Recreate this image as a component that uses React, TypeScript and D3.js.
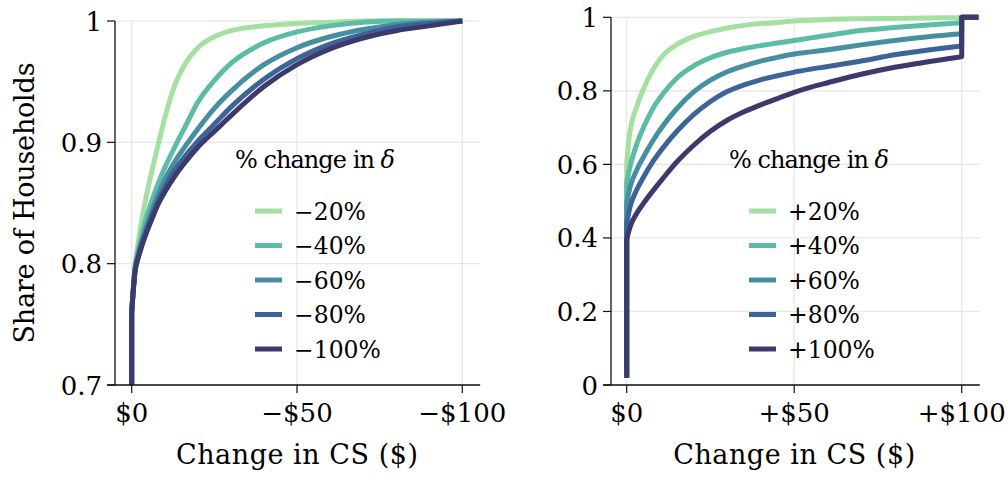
import * as d3 from "d3";

// legend labels and palette
const namesLeft = ["−20%", "−40%", "−60%", "−80%", "−100%"];
const namesRight = ["+20%", "+40%", "+60%", "+80%", "+100%"];
const colors = ["#a3e0a2", "#5cbca6", "#478fa0", "#3c6499", "#3c396c"];

// axis ticks
const xTicks = [0, 50, 100];
const xLabelsLeft = ["$0", "−$50", "−$100"];
const xLabelsRight = ["$0", "+$50", "+$100"];
const yTicksLeft = [0.7, 0.8, 0.9, 1];
const yLabelsLeft = ["0.7", "0.8", "0.9", "1"];
const yTicksRight = [0, 0.2, 0.4, 0.6, 0.8, 1];
const yLabelsRight = ["0", "0.2", "0.4", "0.6", "0.8", "1"];

// left panel: |change in CS| grid and share of households (CDF)
const gridLeft = [0, 1, 2, 3, 4, 6, 8, 10, 13, 16, 20, 25, 30, 40, 50, 60, 70, 80, 90, 100];
const cdfM20 = [0.76, 0.798, 0.818, 0.835, 0.85, 0.875, 0.898, 0.92, 0.947, 0.964, 0.978, 0.987, 0.992, 0.996, 0.998, 0.999, 1, 1, 1, 1];
const cdfM40 = [0.76, 0.796, 0.811, 0.823, 0.834, 0.851, 0.866, 0.879, 0.896, 0.912, 0.933, 0.951, 0.965, 0.982, 0.991, 0.996, 0.999, 1, 1, 1];
const cdfM60 = [0.76, 0.795, 0.808, 0.818, 0.827, 0.843, 0.857, 0.869, 0.884, 0.896, 0.911, 0.928, 0.942, 0.964, 0.978, 0.987, 0.993, 0.997, 0.999, 1];
const cdfM80 = [0.76, 0.794, 0.806, 0.816, 0.824, 0.839, 0.852, 0.863, 0.877, 0.888, 0.901, 0.915, 0.929, 0.952, 0.969, 0.981, 0.989, 0.995, 0.998, 1];
const cdfM100 = [0.76, 0.793, 0.805, 0.814, 0.822, 0.836, 0.849, 0.859, 0.872, 0.883, 0.896, 0.909, 0.922, 0.946, 0.964, 0.977, 0.986, 0.992, 0.996, 1];

// right panel
const gridRight = [0, 0.5, 1, 3, 5, 8, 11, 15, 20, 25, 30, 35, 40, 45, 50, 55, 60, 70, 80, 90, 100];
const cdfP20 = [0.6, 0.655, 0.69, 0.757, 0.805, 0.86, 0.898, 0.926, 0.948, 0.961, 0.971, 0.978, 0.983, 0.986, 0.99, 0.992, 0.994, 0.996, 0.997, 0.998, 0.999];
const cdfP40 = [0.55, 0.573, 0.594, 0.655, 0.7, 0.755, 0.794, 0.835, 0.868, 0.89, 0.905, 0.915, 0.923, 0.93, 0.937, 0.944, 0.951, 0.964, 0.972, 0.979, 0.985];
const cdfP60 = [0.495, 0.518, 0.538, 0.585, 0.62, 0.667, 0.707, 0.752, 0.797, 0.829, 0.852, 0.868, 0.881, 0.891, 0.9, 0.906, 0.912, 0.925, 0.937, 0.947, 0.955];
const cdfP80 = [0.44, 0.463, 0.484, 0.531, 0.565, 0.61, 0.647, 0.69, 0.735, 0.771, 0.798, 0.816, 0.83, 0.841, 0.851, 0.859, 0.866, 0.881, 0.898, 0.911, 0.922];
const cdfP100 = [0.395, 0.414, 0.43, 0.467, 0.494, 0.53, 0.564, 0.607, 0.652, 0.69, 0.72, 0.743, 0.762, 0.779, 0.796, 0.81, 0.822, 0.845, 0.864, 0.879, 0.893];
const rightFloor = 0.02;

const FONT = "'DejaVu Serif', 'Liberation Serif', serif";

function Panel(props: any) {
  const { axisX, xRange, yRange, yDomain, yTicks, yLabels, xLabels, paths, names, legendX, yTitle } = props;
  const x = d3.scaleLinear().domain([0, 100]).range(xRange);
  const y = d3.scaleLinear().domain(yDomain).range(yRange);
  const bottom = y(yDomain[0]);
  const top = y(yDomain[1]);
  const right = x(105.4);
  const ps = paths(x, y);
  const tf = { fontFamily: FONT };
  return (
    <g>
      {yTicks.map((t: number) => (
        <line key={"gy" + t} x1={axisX} x2={right} y1={y(t)} y2={y(t)} stroke="#e6e6e6" strokeWidth={1.2} />
      ))}
      {xTicks.map((t: number) => (
        <line key={"gx" + t} x1={x(t)} x2={x(t)} y1={top} y2={bottom} stroke="#e6e6e6" strokeWidth={1.2} />
      ))}
      {ps.map((d: string, i: number) => (
        <path key={"p" + i} d={d} fill="none" stroke={colors[i]} strokeWidth={5} strokeLinejoin="round" />
      ))}
      <line x1={axisX} x2={axisX} y1={top} y2={bottom} stroke="#111" strokeWidth={1.3} />
      <line x1={axisX - 8} x2={right} y1={bottom} y2={bottom} stroke="#111" strokeWidth={1.3} />
      {yTicks.map((t: number, i: number) => (
        <g key={"yt" + t}>
          <line x1={axisX - 8} x2={axisX} y1={y(t)} y2={y(t)} stroke="#111" strokeWidth={1.2} />
          <text x={axisX - 13} y={y(t) + 9.5} textAnchor="end" fontSize={26} style={tf}>
            {yLabels[i]}
          </text>
        </g>
      ))}
      {xTicks.map((t: number, i: number) => (
        <g key={"xt" + t}>
          <line x1={x(t)} x2={x(t)} y1={bottom} y2={bottom + 8} stroke="#111" strokeWidth={1.2} />
          <text x={x(t)} y={bottom + 37} textAnchor="middle" fontSize={26} style={tf}>
            {xLabels[i]}
          </text>
        </g>
      ))}
      <text
        x={(x(0) + x(100)) / 2}
        y={464}
        textAnchor="middle"
        fontSize={27}
        style={tf}
        textLength={242}
        lengthAdjust="spacing"
      >
        Change in CS ($)
      </text>
      {yTitle && (
        <text
          transform={`translate(34,${(top + bottom) / 2}) rotate(-90)`}
          textAnchor="middle"
          fontSize={27}
          style={tf}
          textLength={281}
          lengthAdjust="spacing"
        >
          Share of Households
        </text>
      )}
      <text x={legendX - 20} y={168} fontSize={24} style={tf} textLength={160} lengthAdjust="spacing">
        % change in <tspan fontStyle="italic">δ</tspan>
      </text>
      {names.map((n: string, i: number) => {
        const cy = 211 + i * 34.5;
        return (
          <g key={"lg" + i}>
            <line x1={legendX} x2={legendX + 27} y1={cy} y2={cy} stroke={colors[i]} strokeWidth={5} />
            <text x={legendX + 39} y={cy + 8.5} fontSize={23.5} style={tf}>
              {n}
            </text>
          </g>
        );
      })}
    </g>
  );
}

export default function App() {
  const leftSeries = [cdfM20, cdfM40, cdfM60, cdfM80, cdfM100];
  const rightSeries = [cdfP20, cdfP40, cdfP60, cdfP80, cdfP100];

  const leftPaths = (x: any, y: any) =>
    leftSeries.map((vals) => {
      const line = d3
        .line<number>()
        .x((_, j) => x(gridLeft[j]))
        .y((v) => y(v))
        .curve(d3.curveMonotoneX);
      const body = line(vals) || "";
      return `M${x(0)},${y(0.7)}L` + body.slice(1);
    });

  const rightPaths = (x: any, y: any) =>
    rightSeries.map((vals) => {
      const line = d3
        .line<number>()
        .x((_, j) => x(gridRight[j]))
        .y((v) => y(v))
        .curve(d3.curveMonotoneX);
      const body = line(vals) || "";
      return (
        `M${x(0)},${y(rightFloor)}L` +
        body.slice(1) +
        `L${x(100)},${y(vals[vals.length - 1])}L${x(100)},${y(1)}L${x(105)},${y(1)}`
      );
    });

  return (
    <div style={{ position: "fixed", left: 0, top: 0 }}>
      <svg width={1008} height={478} style={{ display: "block", background: "#fff" }}>
        <Panel
          axisX={115}
          xRange={[131.7, 462.3]}
          yRange={[385, 21]}
          yDomain={[0.7, 1]}
          yTicks={yTicksLeft}
          yLabels={yLabelsLeft}
          xLabels={xLabelsLeft}
          paths={leftPaths}
          names={namesLeft}
          legendX={255}
          yTitle
        />
        <Panel
          axisX={611}
          xRange={[626.7, 961.7]}
          yRange={[385, 17.3]}
          yDomain={[0, 1]}
          yTicks={yTicksRight}
          yLabels={yLabelsRight}
          xLabels={xLabelsRight}
          paths={rightPaths}
          names={namesRight}
          legendX={749}
        />
      </svg>
    </div>
  );
}
